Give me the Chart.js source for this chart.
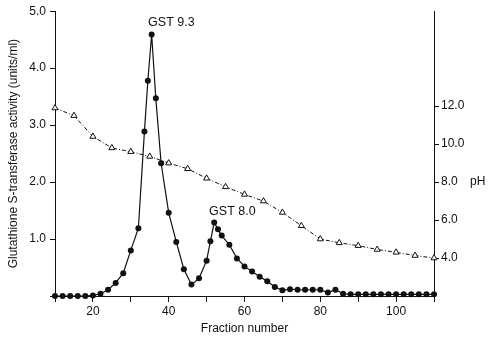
<!DOCTYPE html>
<html>
<head>
<meta charset="utf-8">
<script src="https://cdn.jsdelivr.net/npm/chart.js@4"></script>
<style>
  html, body { margin: 0; padding: 0; background: #fff; }
  canvas { display: block; }
</style>
</head>
<body>
<canvas id="chart" width="488" height="338"></canvas>
<script>
// GST activity (filled circles)
const activityFractions = [10, 12, 14, 16, 18, 20, 22, 24, 26, 28, 30, 32, 33.6, 34.5, 35.5, 36.6, 38,
  40, 42, 44, 46, 48, 50, 51, 52, 53, 54, 56, 58, 60, 62, 64, 66, 68, 70, 72, 74, 76, 78, 80, 82, 84,
  86, 88, 90, 92, 94, 96, 98, 100, 102, 104, 106, 108, 110];
const activityValues = [0, 0, 0, 0, 0, 0.01, 0.04, 0.11, 0.23, 0.40, 0.80, 1.19, 2.89, 3.78, 4.59, 3.47, 2.33,
  1.46, 0.95, 0.47, 0.20, 0.31, 0.62, 0.96, 1.29, 1.17, 1.06, 0.90, 0.66, 0.52, 0.43, 0.34, 0.26, 0.16, 0.10, 0.12, 0.11, 0.11, 0.11, 0.11, 0.06, 0.11,
  0.04, 0.03, 0.03, 0.03, 0.03, 0.03, 0.03, 0.03, 0.03, 0.03, 0.03, 0.03, 0.03];

// pH gradient (open triangles)
const phFractions = [10, 15, 20, 25, 30, 35, 40, 45, 50, 55, 60, 65, 70, 75, 80, 85, 90, 95, 100, 105, 110];
const phValues = [11.9, 11.5, 10.4, 9.8, 9.6, 9.35, 9.0, 8.7, 8.2, 7.75, 7.35, 7.0, 6.4, 5.7, 5.0, 4.8, 4.65, 4.45, 4.3, 4.13, 4.0];

const xTicksLabelled = [20, 40, 60, 80, 100];
const phTicks = [4, 6, 8, 10, 12];

const peakLabels = [
  { text: 'GST 9.3', x: 40.7, y: 4.8 },
  { text: 'GST 8.0', x: 56.8, y: 1.48 }
];

const font = 'Liberation Sans, Arial, sans-serif';
const ink = '#111';

const textPlugin = {
  id: 'texts',
  afterDatasetsDraw(chart) {
    const { ctx, scales } = chart;
    ctx.save();
    ctx.fillStyle = ink;
    ctx.font = '12.5px ' + font;
    ctx.textAlign = 'center';
    ctx.textBaseline = 'middle';
    for (const l of peakLabels) {
      ctx.fillText(l.text, scales.x.getPixelForValue(l.x), scales.y.getPixelForValue(l.y));
    }
    ctx.font = '12px ' + font;
    ctx.textAlign = 'left';
    ctx.fillText('pH', chart.chartArea.right + 36, scales.ph.getPixelForValue(8));
    ctx.restore();
  }
};

new Chart('chart', {
  type: 'line',
  data: {
    datasets: [{
      label: 'activity',
      data: activityFractions.map((f, i) => ({ x: f, y: activityValues[i] })),
      yAxisID: 'y',
      borderColor: ink,
      borderWidth: 1.2,
      backgroundColor: ink,
      pointRadius: 3,
      pointBackgroundColor: ink,
      pointBorderWidth: 0,
      tension: 0,
      clip: false
    }, {
      label: 'pH',
      data: phFractions.map((f, i) => ({ x: f, y: phValues[i] })),
      yAxisID: 'ph',
      borderColor: ink,
      borderWidth: 1,
      borderDash: [4, 2, 1, 2],
      pointStyle: 'triangle',
      pointRadius: 3.5,
      pointBackgroundColor: '#fff',
      pointBorderColor: ink,
      pointBorderWidth: 1,
      tension: 0,
      clip: false
    }]
  },
  options: {
    responsive: false,
    animation: false,
    layout: { padding: { top: 9 } },
    plugins: { legend: { display: false }, tooltip: { enabled: false } },
    scales: {
      x: {
        type: 'linear',
        min: 10, max: 110,
        afterFit: s => { s.height = 42; },
        ticks: {
          stepSize: 10,
          padding: 2,
          color: ink,
          font: { family: font, size: 12 },
          callback: v => xTicksLabelled.includes(v) ? String(v) : ''
        },
        grid: { drawOnChartArea: false, color: ink, tickLength: 6 },
        border: { color: ink },
        title: { display: true, text: 'Fraction number', color: ink, font: { family: font, size: 12 }, padding: { top: 4, bottom: 2 } }
      },
      y: {
        position: 'left',
        min: 0, max: 5,
        afterFit: s => { s.width = 55; },
        ticks: {
          stepSize: 1,
          padding: 4,
          color: ink,
          font: { family: font, size: 12 },
          callback: v => v === 0 ? '' : v.toFixed(1)
        },
        grid: { drawOnChartArea: false, color: ink, tickLength: 5 },
        border: { color: ink },
        title: { display: true, text: 'Glutathione S-transferase activity (units/ml)', color: ink, font: { family: font, size: 12 }, padding: { top: 6, bottom: 4 } }
      },
      ph: {
        position: 'right',
        min: 2, max: 17,
        afterFit: s => { s.width = 54; },
        afterBuildTicks: s => { s.ticks = phTicks.map(v => ({ value: v })); },
        ticks: {
          padding: 2,
          color: ink,
          font: { family: font, size: 12 },
          callback: v => v.toFixed(1)
        },
        grid: { drawOnChartArea: false, color: ink, tickLength: 5 },
        border: { color: ink }
      }
    }
  },
  plugins: [textPlugin]
});
</script>
</body>
</html>
